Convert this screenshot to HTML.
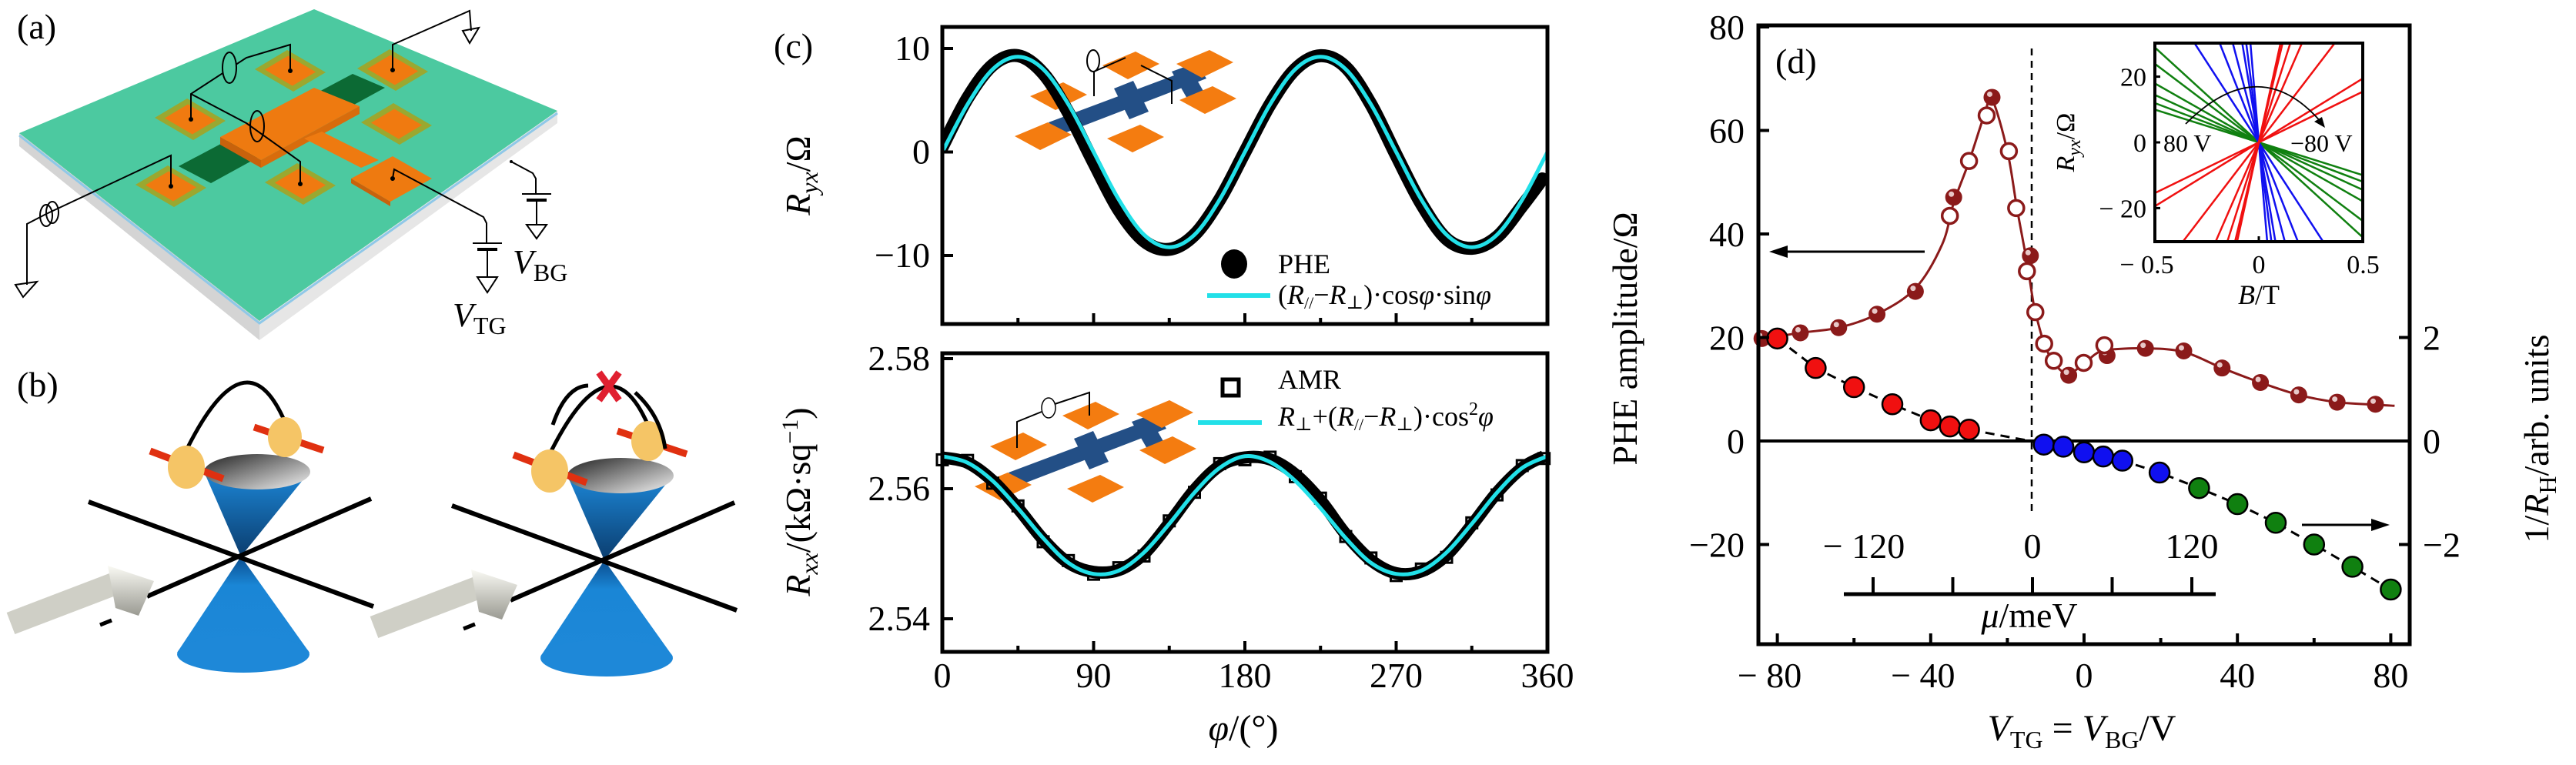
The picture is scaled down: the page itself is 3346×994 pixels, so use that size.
<!DOCTYPE html>
<html><head><meta charset="utf-8">
<style>
html,body{margin:0;padding:0;background:#fff;width:3346px;height:994px;overflow:hidden;}
svg{display:block;}
text,tspan{font-family:"Liberation Serif","DejaVu Serif",serif;}
text{fill:#000;}
</style></head>
<body>
<svg id="fig" xmlns="http://www.w3.org/2000/svg" width="3346" height="994" viewBox="0 0 3346 994" font-family="Liberation Serif, serif">
<defs>
<linearGradient id="capG" x1="0" y1="0" x2="1" y2="1"><stop offset="0" stop-color="#222"/><stop offset="1" stop-color="#f4f4f4"/></linearGradient>
<linearGradient id="coneG" x1="0" y1="0" x2="0" y2="1"><stop offset="0" stop-color="#1c86d6"/><stop offset="1" stop-color="#0b3d6e"/></linearGradient>
<linearGradient id="coneG2" x1="0" y1="0" x2="0" y2="1"><stop offset="0" stop-color="#0b4d8e"/><stop offset="0.3" stop-color="#1a86d6"/><stop offset="1" stop-color="#1e88d8"/></linearGradient>
<linearGradient id="arrG" x1="0" y1="0" x2="0" y2="1"><stop offset="0" stop-color="#fafaf4"/><stop offset="1" stop-color="#9a9a92"/></linearGradient>
<clipPath id="clipInset"><rect x="2799" y="56" width="270" height="258"/></clipPath>
<clipPath id="clipUp"><rect x="1224" y="35" width="786" height="386"/></clipPath>
<clipPath id="clipLo"><rect x="1224" y="459" width="786" height="388"/></clipPath>
</defs>

<!-- ============ Panel (a) ============ -->
<g>
<text x="22" y="50" font-size="46">(a)</text>
<polygon points="25,173 337,417 337,442 25,190" fill="#d4d4d4"/>
<polygon points="337,417 724,144 724,160 337,442" fill="#e6e6e6"/>
<polyline points="25,176 337,420 724,147" fill="none" stroke="#8fc8e8" stroke-width="3"/>
<polygon points="25,173 408,12 724,144 337,417" fill="#4cc9a0"/>
<polygon points="232,216 458,96 500,114 274,238" fill="#0c6a34"/>
<g id="pads"></g>
<polygon points="286,178 408,114 467,138 339,208" fill="#ee7a10"/>
<polygon points="286,178 339,208 339,218 286,188" fill="#c8620c"/>
<polygon points="339,208 467,138 467,148 339,218" fill="#d86c0c"/>
<polygon points="395,180 418,171 492,208 469,218" fill="#ee7a10"/>
<polygon points="456,232 510,203 561,232 507,262" fill="#ee7a10"/>
<polygon points="456,232 507,262 507,268 456,238" fill="#c8620c"/>
<g fill="none" stroke="#000" stroke-width="2">
<polyline points="377,92 377,58 320,75 248,122 248,155"/>
<ellipse cx="298" cy="88" rx="9" ry="20" fill="#4cc9a0"/>
<polyline points="248,122 320,160 390,210 390,239"/>
<ellipse cx="334" cy="164" rx="9" ry="20"/>
<polyline points="222,242 222,202 60,278 35,291 35,370"/>
<ellipse cx="60" cy="280" rx="8" ry="14"/><ellipse cx="68" cy="276" rx="8" ry="14"/>
<polygon points="20,370 48,366 30,386"/>
<polyline points="510,91 510,58 610,14 612,40"/>
<polygon points="601,40 622,36 610,56"/>
<polyline points="510,232 512,220 628,282 632,290 632,316"/>
<line x1="614" y1="316" x2="652" y2="316"/><line x1="620" y1="324" x2="646" y2="324" stroke-width="4"/>
<polyline points="633,324 633,360"/><polygon points="620,360 646,360 633,380"/>
<polyline points="664,210 692,225 696,232 696,252"/>
<line x1="678" y1="252" x2="716" y2="252"/><line x1="684" y1="260" x2="710" y2="260" stroke-width="4"/>
<polyline points="697,260 697,292"/><polygon points="684,292 710,292 697,310"/>
</g>
<g fill="#000">
<circle cx="377" cy="92" r="3"/><circle cx="510" cy="91" r="3"/><circle cx="248" cy="155" r="3"/><circle cx="222" cy="242" r="3"/><circle cx="390" cy="239" r="3"/><circle cx="510" cy="232" r="3"/><circle cx="664" cy="210" r="2"/>
</g>
<text x="666" y="355" font-size="44" font-style="italic">V<tspan font-size="32" font-style="normal" dy="10">BG</tspan></text>
<text x="588" y="424" font-size="44" font-style="italic">V<tspan font-size="32" font-style="normal" dy="10">TG</tspan></text>
</g>

<!-- ============ Panel (b) ============ -->
<g>
<text x="22" y="515" font-size="46">(b)</text>
<g id="coneL">
<polygon points="230,848 313,723 402,848" fill="url(#coneG2)"/>
<ellipse cx="316" cy="850" rx="86" ry="24" fill="#1e88d8"/>
<polygon points="265,613 313,723 402,613" fill="url(#coneG)"/>
<ellipse cx="334" cy="613" rx="69" ry="23" fill="url(#capG)"/>
<line x1="115" y1="652" x2="485" y2="788" stroke="#000" stroke-width="6"/>
<line x1="482" y1="648" x2="191" y2="775" stroke="#000" stroke-width="6"/>
<path d="M242,585 Q319,430 370,548" fill="none" stroke="#000" stroke-width="5"/>
<line x1="195" y1="586" x2="290" y2="622" stroke="#e03010" stroke-width="9"/>
<ellipse cx="242" cy="607" rx="24" ry="28" fill="#f5c566"/>
<line x1="330" y1="555" x2="420" y2="585" stroke="#e03010" stroke-width="9"/>
<ellipse cx="370" cy="568" rx="22" ry="26" fill="#f5c566"/>
<line x1="14" y1="810" x2="150" y2="758" stroke="#cfcfc6" stroke-width="30"/>
<polygon points="140,735 200,755 180,800 150,790" fill="url(#arrG)"/>
<line x1="130" y1="812" x2="145" y2="806" stroke="#000" stroke-width="5"/>
</g>
<use href="#coneL" transform="translate(472,5)"/>
<path d="M718,552 Q730,505 766,502" fill="none" stroke="#fff" stroke-width="12"/>
<path d="M718,552 Q735,502 764,501" fill="none" stroke="#000" stroke-width="5"/>
<path d="M825,510 Q858,540 864,583" fill="none" stroke="#000" stroke-width="5"/>
<path d="M778,484 L804,520 M804,484 L778,520" stroke="#e02030" stroke-width="9"/>
</g>

<!-- ============ Panel (c) ============ -->
<g>
<text x="1005" y="75" font-size="46">(c)</text>
<g id="cUpper"></g>
<g id="cLower"></g>
</g>

<!-- ============ Panel (d) ============ -->
<g id="dPanel"></g>
</svg>

<script>
// ---------- Panel (c) data ----------
const phiAngles = [0,15,30,45,60,75,90,105,120,135,150,165,180,195,210,225,240,255,270,285,300,315,330,345,357];
const pheData   = [0.5,5.2,8.4,9.3,7.6,3.8,-1.0,-5.6,-8.6,-9.4,-8.0,-4.6,0.0,4.6,8.0,9.3,8.2,4.6,-0.3,-5.0,-8.4,-9.3,-8.2,-5.2,-2.6];
const fitAngles = [0,15,30,45,60,75,90,105,120,135,150,165,180,195,210,225,240,255,270,285,300,315,330,345,360];
const pheFit    = [0.0,4.6,8.0,9.2,8.0,4.6,0.0,-4.6,-8.0,-9.2,-8.0,-4.6,0.0,4.6,8.0,9.2,8.0,4.6,0.0,-4.6,-8.0,-9.2,-8.0,-4.6,0.0];
const amrAngles = [0,15,30,45,60,75,90,105,120,135,150,165,180,195,210,225,240,255,270,285,300,315,330,345,358];
const amrData   = [2.5648,2.5640,2.5612,2.5570,2.5522,2.5486,2.5472,2.5475,2.5500,2.5547,2.5598,2.5635,2.5648,2.5645,2.5622,2.5582,2.5530,2.5490,2.5470,2.5473,2.5498,2.5544,2.5594,2.5632,2.5650];
const amrFit    = [2.5650,2.5640,2.5612,2.5570,2.5524,2.5486,2.5469,2.5474,2.5502,2.5546,2.5594,2.5632,2.5650,2.5641,2.5612,2.5570,2.5524,2.5486,2.5469,2.5474,2.5502,2.5546,2.5594,2.5632,2.5650];
const phiTicks  = [0,90,180,270,360];
const upperTicks = [10,0,-10];
const lowerTicks = [2.58,2.56,2.54];

// ---------- Panel (d) data ----------
const pheFilledV = [-84,-74,-64,-54,-44,-34,-24,-14,-4,6,16,26,36,46,56,66,76];
const pheFilledA = [19.8,20.9,21.9,24.5,28.9,47.1,66.4,35.8,12.7,16.5,17.9,17.4,14.1,11.3,8.9,7.5,7.1];
const pheOpenV = [-35,-30,-25.4,-19.6,-17.7,-14.9,-12.7,-10.4,-7.9,-0.1,5.3];
const pheOpenA = [43.5,54.1,62.9,56.0,45.0,32.8,24.9,18.8,15.5,15.1,18.5];
const pheCurveV = [-86,-74,-64,-54,-44,-37,-34,-30,-26,-24,-20,-17.5,-15,-13.5,-12.7,-10.4,-7.9,-4.5,-0.5,3,6,16,26,36,46,56,66,76,81];
const pheCurveA = [19.5,20.9,21.9,24.5,29.5,38,46,54,63,66,56,45,35,28,24.9,18.8,15.2,13,14.6,16.8,17.6,17.9,17.2,14.1,11.3,8.9,7.5,7.0,6.8];
const hallRedV = [-80,-70,-60,-50,-40,-35,-30];
const hallRedH = [1.98,1.41,1.04,0.71,0.40,0.28,0.22];
const hallBlueV = [-10.5,-5.4,0,5,10,19.7];
const hallBlueH = [-0.07,-0.11,-0.22,-0.30,-0.38,-0.61];
const hallGreenV = [30,40,50,60,70,80];
const hallGreenH = [-0.91,-1.22,-1.58,-2.0,-2.43,-2.87];
const vTicks = [-80,-40,0,40,80];
const vMinorTicks = [-60,-20,20,60];
const leftTicks = [80,60,40,20,0,-20];
const rightTicks = [2,0,-2];
const muTickLabels = [-120,0,120];
const muTicks = [-120,-60,0,60,120];
// inset: slopes of R_yx vs B (Ohm/T)
const insetRedSlopes = [31,39,83,146,200,265,290];
const insetBlueSlopes = [-98,-161,-242,-380,-500,-750];
const insetGreenSlopes = [-20,-24,-29,-36,-48,-58];
const insetBTicks = [-0.5,0,0.5];
const insetRTicks = [20,0,-20];

const NS = "http://www.w3.org/2000/svg";
function mk(tag, attrs, parent){ const e=document.createElementNS(NS,tag); for(const k in attrs) e.setAttribute(k,attrs[k]); (parent||document.getElementById('fig')).appendChild(e); return e; }
function smooth(pts){
  let d = "M"+pts[0][0].toFixed(1)+","+pts[0][1].toFixed(1);
  for(let i=0;i<pts.length-1;i++){
    const p0=pts[Math.max(0,i-1)],p1=pts[i],p2=pts[i+1],p3=pts[Math.min(pts.length-1,i+2)];
    const c1=[p1[0]+(p2[0]-p0[0])/6,p1[1]+(p2[1]-p0[1])/6], c2=[p2[0]-(p3[0]-p1[0])/6,p2[1]-(p3[1]-p1[1])/6];
    d+=" C"+c1.join(",")+" "+c2.join(",")+" "+p2.join(",");
  }
  return d;
}

(function(){
  const g=document.getElementById('pads');
  const centers=[[377,92],[510,91],[247,155],[515,161],[222,242],[390,239]];
  centers.forEach(c=>{
    const o=[[-46,-2],[-4,-27],[46,2],[4,27]];
    const outer=mk('polygon',{points:o.map(p=>(c[0]+p[0])+','+(c[1]+p[1])).join(' '),fill:'#9aa830'},g);
    
    
    const inner=mk('polygon',{points:o.map(p=>(c[0]+p[0]*0.72)+','+(c[1]+p[1]*0.72)).join(' '),fill:'#f07a10'},g);
    
    
  });
})();

const xc = p => 1224 + p*(786/360);
const yu = r => 197.5 - r*13.45;
const yb = r => 635 - (r-2.56)*8450;

function hallbar(parent, dx, dy, wire){
  const g=mk('g',{transform:`translate(${dx},${dy})`},parent);
  
  
  const sq=[[1323,580],[1417,540],[1513,538],[1517,585],[1423,635],[1303,632]];
  mk('polygon',{points:"1310,614 1505,541 1515,557 1320,632",fill:'#234f86'},g);
  mk('polygon',{points:"1395,570 1420,560 1440,600 1415,610",fill:'#234f86'},g);
  mk('polygon',{points:"1470,548 1492,540 1512,575 1490,583",fill:'#234f86'},g);
  sq.forEach(c=>{ mk('polygon',{points:[[-37,0],[6,-18],[37,-2],[-4,18]].map(p=>(c[0]+p[0])+','+(c[1]+p[1])).join(' '),fill:'#f47c10'},g); });
  mk('path',{d:wire,fill:'none',stroke:'#000','stroke-width':2},g);
  return g;
}

(function(){
  const up=document.getElementById('cUpper');
  const lo=document.getElementById('cLower');
  hallbar(up, 52, -455, "M1369,580 L1369,548 L1410,530 M1430,540 L1470,560 L1470,590");
  mk('ellipse',{cx:1420,cy:79,rx:8,ry:14,fill:'#fff',stroke:'#000','stroke-width':2},up);
  hallbar(lo, 0, 0, "M1321,582 L1321,548 L1353,535 M1370,525 L1415,510 L1415,540");
  mk('ellipse',{cx:1362,cy:530,rx:9,ry:13,fill:'#fff',stroke:'#000','stroke-width':1.5},lo);

  const phePts = phiAngles.map((p,i)=>[xc(p),yu(pheData[i])]);
  const pd=mk('path',{d:smooth(phePts),fill:'none',stroke:'#000','stroke-width':17,'stroke-linecap':'round','clip-path':'url(#clipUp)'},up);
  
  
  const fitPts = fitAngles.map((p,i)=>[xc(p),yu(pheFit[i])]);
  const pf=mk('path',{d:smooth(fitPts),fill:'none',stroke:'#22e0e8','stroke-width':5,'clip-path':'url(#clipUp)'},up);
  
  
  const amrPts = amrAngles.map((p,i)=>[xc(p),yb(amrData[i])]);
  const ad=mk('path',{d:smooth(amrPts),fill:'none',stroke:'#000','stroke-width':16,'clip-path':'url(#clipLo)'},lo);
  
  
  amrAngles.forEach((p,i)=>{
    const s=mk('rect',{x:xc(p)-7,y:yb(amrData[i])-7-((i%2)?3:-3),width:14,height:14,fill:'none',stroke:'#000','stroke-width':3},lo);
    
    
  });
  const af=mk('path',{d:smooth(fitAngles.map((p,i)=>[xc(p),yb(amrFit[i])])),fill:'none',stroke:'#22e0e8','stroke-width':5,'clip-path':'url(#clipLo)'},lo);
  
  

  const f1=mk('rect',{x:1224,y:35,width:786,height:386,fill:'none',stroke:'#000','stroke-width':5},up);
  
  
  const f2=mk('rect',{x:1224,y:459,width:786,height:388,fill:'none',stroke:'#000','stroke-width':5},lo);
  
  
  for(let p=45;p<360;p+=45){
    const major = p%90===0;
    const len = major?14:8;
    const t1=mk('line',{x1:xc(p),y1:421,x2:xc(p),y2:421-len,stroke:'#000','stroke-width':4},up);
    
    
    const t2=mk('line',{x1:xc(p),y1:847,x2:xc(p),y2:847-len,stroke:'#000','stroke-width':4},lo);
    
    
  }
  phiTicks.forEach(p=>{
    const t=mk('text',{x:xc(p),y:893,'font-size':46,'text-anchor':'middle'},lo);
    t.textContent=p;
    
    
  });
  upperTicks.forEach(v=>{
    const l=mk('line',{x1:1224,y1:yu(v),x2:1238,y2:yu(v),stroke:'#000','stroke-width':4},up);
    
    
    const t=mk('text',{x:1208,y:yu(v)+15,'font-size':46,'text-anchor':'end'},up);
    t.textContent = v<0 ? '\u2212'+Math.abs(v) : String(v);
    
    
  });
  lowerTicks.forEach(v=>{
    const l=mk('line',{x1:1224,y1:yb(v),x2:1238,y2:yb(v),stroke:'#000','stroke-width':4},lo);
    
    
    const t=mk('text',{x:1208,y:yb(v)+15,'font-size':46,'text-anchor':'end'},lo);
    t.textContent = v.toFixed(2);
    
    
  });
  let t=mk('text',{x:0,y:0,'font-size':46,'text-anchor':'middle',transform:'translate(1052,228) rotate(-90)'},up);
  t.innerHTML='<tspan font-style="italic">R</tspan><tspan font-style="italic" font-size="32" dy="10">yx</tspan><tspan dy="-10">/Ω</tspan>';
  
  
  t=mk('text',{x:0,y:0,'font-size':46,'text-anchor':'middle',transform:'translate(1052,652) rotate(-90)'},lo);
  t.innerHTML='<tspan font-style="italic">R</tspan><tspan font-style="italic" font-size="32" dy="10">xx</tspan><tspan dy="-10">/(kΩ·sq</tspan><tspan font-size="30" dy="-16">−1</tspan><tspan dy="16">)</tspan>';
  
  
  t=mk('text',{x:1615,y:962,'font-size':48,'text-anchor':'middle'},lo);
  t.innerHTML='<tspan font-style="italic">φ</tspan>/(°)';
  
  
  const lg1=mk('g',{},up);
  
  
  mk('ellipse',{cx:1603,cy:343,rx:17,ry:19,fill:'#000'},lg1);
  mk('text',{x:1660,y:355,'font-size':36},lg1).textContent='PHE';
  mk('line',{x1:1568,y1:384,x2:1650,y2:384,stroke:'#22e0e8','stroke-width':6},lg1);
  mk('text',{x:1660,y:395,'font-size':36},lg1).innerHTML='(<tspan font-style="italic">R</tspan><tspan font-size="22" dy="6">//</tspan><tspan dy="-6">−</tspan><tspan font-style="italic">R</tspan><tspan font-size="24" dy="6">⊥</tspan><tspan dy="-6">)·cos</tspan><tspan font-style="italic">φ</tspan>·sin<tspan font-style="italic">φ</tspan>';
  const lg2=mk('g',{},lo);
  
  
  mk('rect',{x:1588,y:493,width:21,height:21,fill:'none',stroke:'#000','stroke-width':5},lg2);
  mk('text',{x:1660,y:505,'font-size':36},lg2).textContent='AMR';
  mk('line',{x1:1556,y1:549,x2:1639,y2:549,stroke:'#22e0e8','stroke-width':6},lg2);
  mk('text',{x:1660,y:553,'font-size':36},lg2).innerHTML='<tspan font-style="italic">R</tspan><tspan font-size="24" dy="6">⊥</tspan><tspan dy="-6">+(</tspan><tspan font-style="italic">R</tspan><tspan font-size="22" dy="6">//</tspan><tspan dy="-6">−</tspan><tspan font-style="italic">R</tspan><tspan font-size="24" dy="6">⊥</tspan><tspan dy="-6">)·cos</tspan><tspan font-size="24" dy="-14">2</tspan><tspan font-style="italic" dy="14">φ</tspan>';
})();

const xd = v => 2707 + v*4.98;
const yl = a => 573 - a*6.725;
const yr = h => 573 - h*67.25;
const xi = b => 2934 + b*271;
const yi = r => 185 - r*4.27;

(function(){
  const g=document.getElementById('dPanel');
  let e=mk('line',{x1:2284,y1:573,x2:3130,y2:573,stroke:'#000','stroke-width':4},g);
  
  
  e=mk('line',{x1:2639,y1:63,x2:2639,y2:668,stroke:'#000','stroke-width':2.5,'stroke-dasharray':'9,7'},g);
  
  
  e=mk('path',{d:smooth(pheCurveV.map((v,i)=>[xd(v),yl(pheCurveA[i])])),fill:'none',stroke:'#8b1a1a','stroke-width':3},g);
  
  
  const hv=[...hallRedV,-14,...hallBlueV,...hallGreenV], hh=[...hallRedH,0,...hallBlueH,...hallGreenH];
  e=mk('polyline',{points:hv.map((v,i)=>xd(v)+','+yr(hh[i])).join(' '),fill:'none',stroke:'#000','stroke-width':3,'stroke-dasharray':'12,8'},g);
  
  
  pheFilledV.forEach((v,i)=>{
    const c=mk('circle',{cx:xd(v),cy:yl(pheFilledA[i]),r:11,fill:'#8b1a1a'},g);
    
    
    mk('circle',{cx:xd(v)-3,cy:yl(pheFilledA[i])-4,r:3.5,fill:'#e8c8c8'},g);
  });
  pheOpenV.forEach((v,i)=>{
    const c=mk('circle',{cx:xd(v),cy:yl(pheOpenA[i]),r:10,fill:'#fff',stroke:'#8b1a1a','stroke-width':3.5},g);
    
    
  });
  function hallPts(V,H,col,name){
    V.forEach((v,i)=>{
      const c=mk('circle',{cx:xd(v),cy:yr(H[i]),r:13,fill:col,stroke:'#000','stroke-width':2.5},g);
      
      
    });
  }
  hallPts(hallRedV,hallRedH,'#f01010','hall-point-red');
  hallPts(hallBlueV,hallBlueH,'#1010f0','hall-point-blue');
  hallPts(hallGreenV,hallGreenH,'#108010','hall-point-green');
  e=mk('rect',{x:2284,y:33,width:846,height:804,fill:'none',stroke:'#000','stroke-width':5},g);
  
  
  vTicks.forEach(v=>{
    let l=mk('line',{x1:xd(v),y1:837,x2:xd(v),y2:823,stroke:'#000','stroke-width':4},g);
    
    
    const t=mk('text',{x:xd(v)+(v<0?-10:0),y:893,'font-size':46,'text-anchor':'middle'},g);
    t.textContent = v<0 ? '\u2212 '+Math.abs(v) : String(v);
    
    
  });
  vMinorTicks.forEach(v=>{
    const l=mk('line',{x1:xd(v),y1:837,x2:xd(v),y2:829,stroke:'#000','stroke-width':4},g);
    
    
  });
  leftTicks.forEach(a=>{
    const l=mk('line',{x1:2284,y1:yl(a),x2:2298,y2:yl(a),stroke:'#000','stroke-width':4},g);
    
    
    const t=mk('text',{x:2266,y:yl(a)+16,'font-size':46,'text-anchor':'end'},g);
    t.textContent = a<0 ? '\u2212'+Math.abs(a) : String(a);
    
    
  });
  rightTicks.forEach(h=>{
    const l=mk('line',{x1:3116,y1:yr(h),x2:3130,y2:yr(h),stroke:'#000','stroke-width':4},g);
    
    
    const t=mk('text',{x:3147,y:yr(h)+16,'font-size':46},g);
    t.textContent = h<0 ? '\u2212'+Math.abs(h) : String(h);
    
    
  });
  const xm = m => 2640 + m*1.725;
  e=mk('line',{x1:2395,y1:772,x2:2878,y2:772,stroke:'#000','stroke-width':5},g);
  
  
  muTicks.forEach(m=>{
    const l=mk('line',{x1:xm(m),y1:772,x2:xm(m),y2:750,stroke:'#000','stroke-width':4},g);
    
    
  });
  muTickLabels.forEach(m=>{
    const t=mk('text',{x:xm(m)+(m<0?-12:0),y:725,'font-size':46,'text-anchor':'middle'},g);
    t.textContent = m<0 ? '\u2212 '+Math.abs(m) : String(m);
    
    
  });
  e=mk('text',{x:2636,y:815,'font-size':46,'text-anchor':'middle'},g);
  e.innerHTML='<tspan font-style="italic">μ</tspan>/meV';
  
  
  e=mk('g',{},g);
  
  
  mk('line',{x1:2500,y1:327,x2:2310,y2:327,stroke:'#000','stroke-width':3},e);
  mk('polygon',{points:'2298,327 2322,319 2322,335',fill:'#000'},e);
  e=mk('g',{},g);
  
  
  mk('line',{x1:2990,y1:682,x2:3092,y2:682,stroke:'#000','stroke-width':3},e);
  mk('polygon',{points:'3104,682 3080,674 3080,690',fill:'#000'},e);
  e=mk('text',{x:2306,y:95,'font-size':46},g);
  e.textContent='(d)';
  
  
  e=mk('text',{x:0,y:0,'font-size':46,'text-anchor':'middle',transform:'translate(2126,440) rotate(-90)'},g);
  e.textContent='PHE amplitude/Ω';
  
  
  e=mk('text',{x:0,y:0,'font-size':46,'text-anchor':'middle',transform:'translate(3310,570) rotate(-90)'},g);
  e.innerHTML='1/<tspan font-style="italic">R</tspan><tspan font-size="32" dy="10">H</tspan><tspan dy="-10">/arb. units</tspan>';
  
  
  e=mk('text',{x:2704,y:962,'font-size':48,'text-anchor':'middle'},g);
  e.innerHTML='<tspan font-style="italic">V</tspan><tspan font-size="32" dy="10">TG</tspan><tspan dy="-10"> = </tspan><tspan font-style="italic">V</tspan><tspan font-size="32" dy="10">BG</tspan><tspan dy="-10">/V</tspan>';
  
  

  const ins=mk('g',{},g);
  
  
  mk('rect',{x:2799,y:56,width:270,height:258,fill:'#fff'},ins);
  const lines=mk('g',{'clip-path':'url(#clipInset)'},ins);
  function drawSlopes(arr,col,name){
    arr.forEach(s=>{
      const l=mk('line',{x1:xi(-0.5),y1:yi(-0.5*s),x2:xi(0.5),y2:yi(0.5*s),stroke:col,'stroke-width':2.5},lines);
      
      
    });
  }
  drawSlopes(insetGreenSlopes,'#108010','inset-line-green');
  drawSlopes(insetBlueSlopes,'#1010f0','inset-line-blue');
  drawSlopes(insetRedSlopes,'#f01010','inset-line-red');
  mk('path',{d:'M2839,161 Q2935,65 3016,160',fill:'none',stroke:'#000','stroke-width':1.8},ins);
  mk('polygon',{points:'3020,166 3006,158 3016,152',fill:'#000'},ins);
  mk('rect',{x:2799,y:56,width:270,height:258,fill:'none',stroke:'#000','stroke-width':4},ins);
  insetBTicks.forEach(b=>{
    mk('line',{x1:xi(b),y1:314,x2:xi(b),y2:307,stroke:'#000','stroke-width':3},ins);
    const t=mk('text',{x:xi(b)+(b<0?-10:0),y:355,'font-size':34,'text-anchor':'middle'},ins);
    t.textContent = b<0 ? '\u2212 '+Math.abs(b) : String(b);
    
    
  });
  insetRTicks.forEach(r=>{
    mk('line',{x1:2799,y1:yi(r),x2:2806,y2:yi(r),stroke:'#000','stroke-width':3},ins);
    const t=mk('text',{x:2788,y:yi(r)+12,'font-size':34,'text-anchor':'end'},ins);
    t.textContent = r<0 ? '\u2212 '+Math.abs(r) : String(r);
    
    
  });
  let t=mk('text',{x:2810,y:197,'font-size':32},ins); t.textContent='80 V';
  
  
  t=mk('text',{x:2975,y:197,'font-size':32},ins); t.textContent='\u221280 V';
  
  
  t=mk('text',{x:2934,y:395,'font-size':36,'text-anchor':'middle'},ins);
  t.innerHTML='<tspan font-style="italic">B</tspan>/T';
  
  
  t=mk('text',{x:0,y:0,'font-size':34,'text-anchor':'middle',transform:'translate(2694,185) rotate(-90)'},ins);
  t.innerHTML='<tspan font-style="italic">R</tspan><tspan font-style="italic" font-size="24" dy="8">yx</tspan><tspan dy="-8">/Ω</tspan>';
  
  
})();
</script>
</body></html>
